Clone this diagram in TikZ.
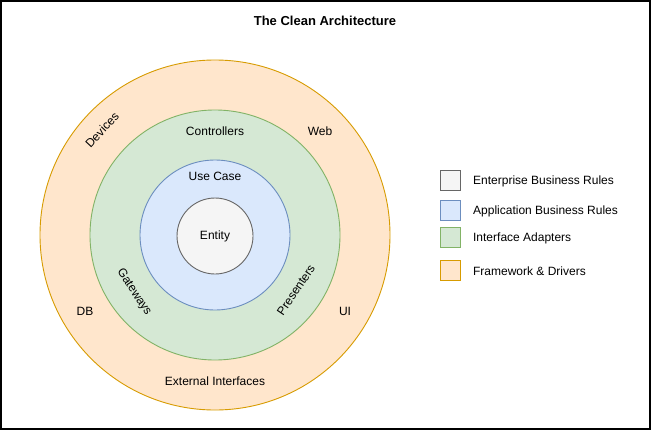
\documentclass[tikz,border=0pt]{standalone}
\usepackage{fontspec}
\setmainfont{Liberation Sans}
\usepackage{tikz}
\usetikzlibrary{positioning}

\definecolor{entfill}{HTML}{F5F5F5}\definecolor{entline}{HTML}{666666}
\definecolor{appfill}{HTML}{DAE8FC}\definecolor{appline}{HTML}{6C8EBF}
\definecolor{adpfill}{HTML}{D5E8D4}\definecolor{adpline}{HTML}{82B366}
\definecolor{fwkfill}{HTML}{FFE6CC}\definecolor{fwkline}{HTML}{D79B00}

\begin{document}
\begin{tikzpicture}[x=1pt,y=-1pt,
        font=\fontsize{12}{14}\selectfont,
        ring/.style={circle, draw, line width=0.9pt, inner sep=0pt},
        keybox/.style={rectangle, draw, line width=0.9pt, minimum width=20pt, minimum height=20pt, inner sep=0pt},
        keytext/.style={anchor=west, inner sep=0pt, yshift=-1.2pt}]
                \useasboundingbox (0,0) rectangle (651,431);
                \draw[line width=1.5pt] (1,1) rectangle (650,429);
                \node[font=\fontsize{13}{15}\selectfont\bfseries] (title) at (325,21) {The Clean Architecture};
                % layers, outside in
                \node[ring, draw=fwkline, fill=fwkfill, minimum size=350pt] (frame) at (215,235) {};
                \node[ring, draw=adpline, fill=adpfill, minimum size=250pt] (adapt) at (215,235) {};
                \node[ring, draw=appline, fill=appfill, minimum size=150pt] (usecase) at (215,235) {};
                \node[ring, draw=entline, fill=entfill, minimum size=76pt] (entity) at (215,236) {Entity};
                \node (lblusecase) at (215,176) {Use Case};
                \node (lblctrl) at (215,131) {Controllers};
                \node[rotate=-57] (lblgate) at (134,292) {Gateways};
                \node[rotate=56] (lblpres) at (296,290) {Presenters};
                \node[rotate=47] (lbldev) at (102,130) {Devices};
                \node (lblweb) at (320,131) {Web};
                \node (lbldb) at (85,311) {DB};
                \node (lblui) at (345,311) {UI};
                \node (lblext) at (215,381) {External Interfaces};
                % legend
                \node[keybox, draw=entline, fill=entfill] (key1) at (450.5,180.5) {};
                \node[keybox, draw=appline, fill=appfill] (key2) at (450.5,210.5) {};
                \node[keybox, draw=adpline, fill=adpfill] (key3) at (450.5,237.5) {};
                \node[keybox, draw=fwkline, fill=fwkfill] (key4) at (450.5,270) {};
                \node[keytext, right=12pt of key1] (txt1) {Enterprise Business Rules};
                \node[keytext, right=12pt of key2] (txt2) {Application Business Rules};
                \node[keytext, right=12pt of key3] (txt3) {Interface Adapters};
                \node[keytext, right=12pt of key4] (txt4) {Framework \& Drivers};
            \end{tikzpicture}
\end{document}
